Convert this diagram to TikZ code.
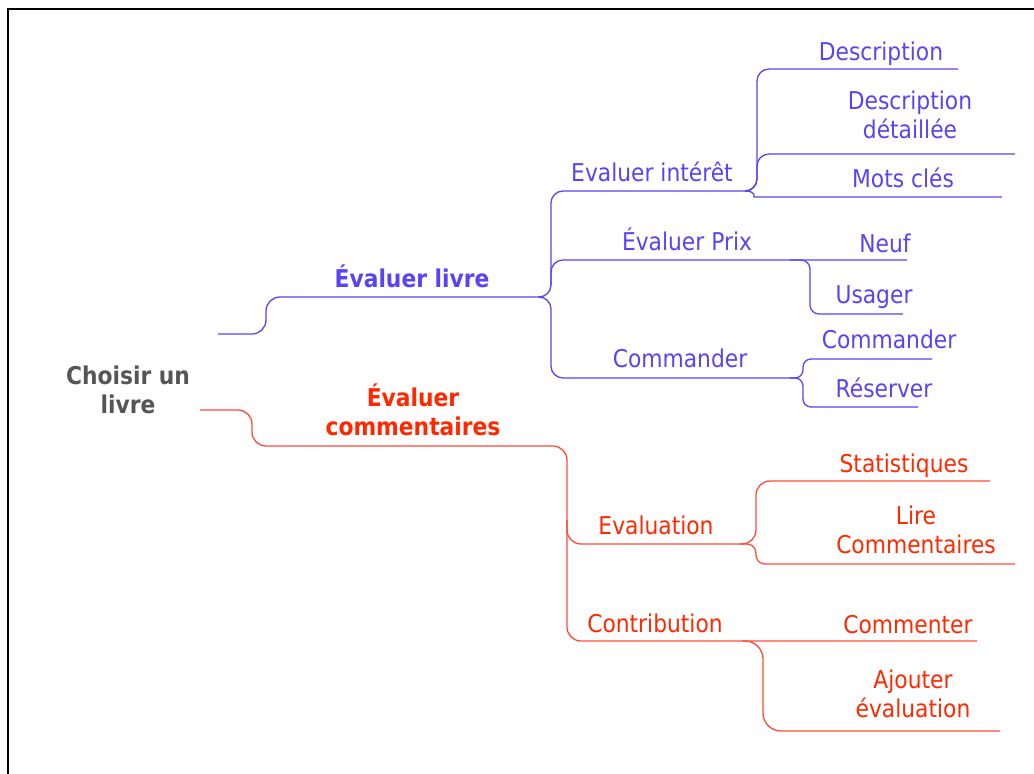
\documentclass[tikz,border=0pt]{standalone}
\usepackage{fontspec}
\setmainfont{DejaVu Sans}[FakeStretch=0.89]
\usepackage{xcolor}
\usepackage{tikz}

\begin{document}
\begin{tikzpicture}[x=1pt,y=-1pt,
  bluebranch/.style={draw=mapblue,line width=1.3pt,rounded corners=#1},
  bluebranch/.default=12pt,
  redbranch/.style={draw=mapredline,line width=1.3pt,rounded corners=#1},
  redbranch/.default=12pt,
  leaf/.style={font=\fontsize{24.5}{29}\selectfont,align=center,anchor=base,inner sep=0pt},
  topic/.style={leaf,font=\bfseries\fontsize{24.5}{29}\selectfont}]
% Define colours
\definecolor{mapblue}{RGB}{88,68,245}
\definecolor{mapred}{RGB}{255,40,0}
\definecolor{mapredline}{RGB}{255,75,55}
\definecolor{rootgrey}{RGB}{85,85,85}

% Page and frame
\useasboundingbox (0,0) rectangle (1034,774);
\draw[line width=2.5pt] (8,774) -- (8,9) -- (1034,9);

% Centre topic
\node[topic,text=rootgrey] (root) at (128,413) {Choisir un\\livre};

% Blue side: texts
\node[topic,text=mapblue] (livre) at (412,287) {Évaluer livre};
\node[leaf,text=mapblue] (interet) at (652,181) {Evaluer intérêt};
\node[leaf,text=mapblue] (prix) at (687,250) {Évaluer Prix};
\node[leaf,text=mapblue] (commander) at (680,367) {Commander};
\node[leaf,text=mapblue] (descr) at (881,60) {Description};
\node[leaf,text=mapblue] (detail) at (910,138) {Description\\détaillée};
\node[leaf,text=mapblue] (motscles) at (903,187) {Mots clés};
\node[leaf,text=mapblue] (neuf) at (885,252) {Neuf};
\node[leaf,text=mapblue] (usager) at (874,303) {Usager};
\node[leaf,text=mapblue] (cmd) at (889,348) {Commander};
\node[leaf,text=mapblue] (reserver) at (884,397) {Réserver};

% Red side: texts
\node[topic,text=mapred] (comment) at (413,435) {Évaluer\\commentaires};
\node[leaf,text=mapred] (evaluation) at (656,534) {Evaluation};
\node[leaf,text=mapred] (contrib) at (655,632) {Contribution};
\node[leaf,text=mapred] (stats) at (904,472) {Statistiques};
\node[leaf,text=mapred] (lire) at (916,553) {Lire\\Commentaires};
\node[leaf,text=mapred] (commenter) at (908,633) {Commenter};
\node[leaf,text=mapred] (ajouter) at (913,717) {Ajouter\\évaluation};

% Junctions and line ends
\coordinate (livre-in) at (218,334);
\coordinate (livre-j) at (538,297);
\coordinate (interet-j) at (745,191);
\coordinate (prix-j) at (790,260);
\coordinate (commander-j) at (790,378);
\coordinate (descr-end) at (958,69);
\coordinate (detail-end) at (1015,154);
\coordinate (motscles-end) at (1002,197);
\coordinate (neuf-end) at (907,260);
\coordinate (usager-end) at (903,314);
\coordinate (cmd-end) at (932,359);
\coordinate (reserver-end) at (918,407);
\coordinate (comment-in) at (200,410);
\coordinate (eval-j) at (740,544);
\coordinate (contrib-j) at (742,641);
\coordinate (stats-end) at (990,481);
\coordinate (lire-end) at (1015,564);
\coordinate (commenter-end) at (977,641);
\coordinate (ajouter-end) at (1000,731);

% Blue branches
\draw[bluebranch=14pt] (livre-in) -- (266,334) -- (266,297) -- (livre-j);
\draw[bluebranch] (livre-j) -- (551,297) |- (interet-j);
\draw[bluebranch] (livre-j) -- (551,297) |- (commander-j);
\draw[bluebranch] (551,285) |- (neuf-end);
\draw[bluebranch] (interet-j) -- (757,191) |- (descr-end);
\draw[bluebranch] (interet-j) -- (757,191) |- (detail-end);
\draw[bluebranch] (interet-j) .. controls (756,191) and (754,197) .. (766,197) -- (motscles-end);
\draw[bluebranch=9pt] (prix-j) -- (810,260) |- (usager-end);
\draw[bluebranch=8pt] (commander-j) -- (803,378) |- (cmd-end);
\draw[bluebranch=8pt] (commander-j) -- (803,378) |- (reserver-end);

% Red branches
\draw[redbranch=14pt] (comment-in) -- (252,410) -- (252,446) -- (567,446) |- (commenter-end);
\draw[redbranch=14pt] (567,520) |- (eval-j);
\draw[redbranch=14pt] (eval-j) -- (756,544) |- (stats-end);
\draw[redbranch=9pt] (eval-j) -- (756,544) |- (lire-end);
\draw[redbranch=18pt] (contrib-j) -- (763,641) |- (ajouter-end);
\end{tikzpicture}
\end{document}
